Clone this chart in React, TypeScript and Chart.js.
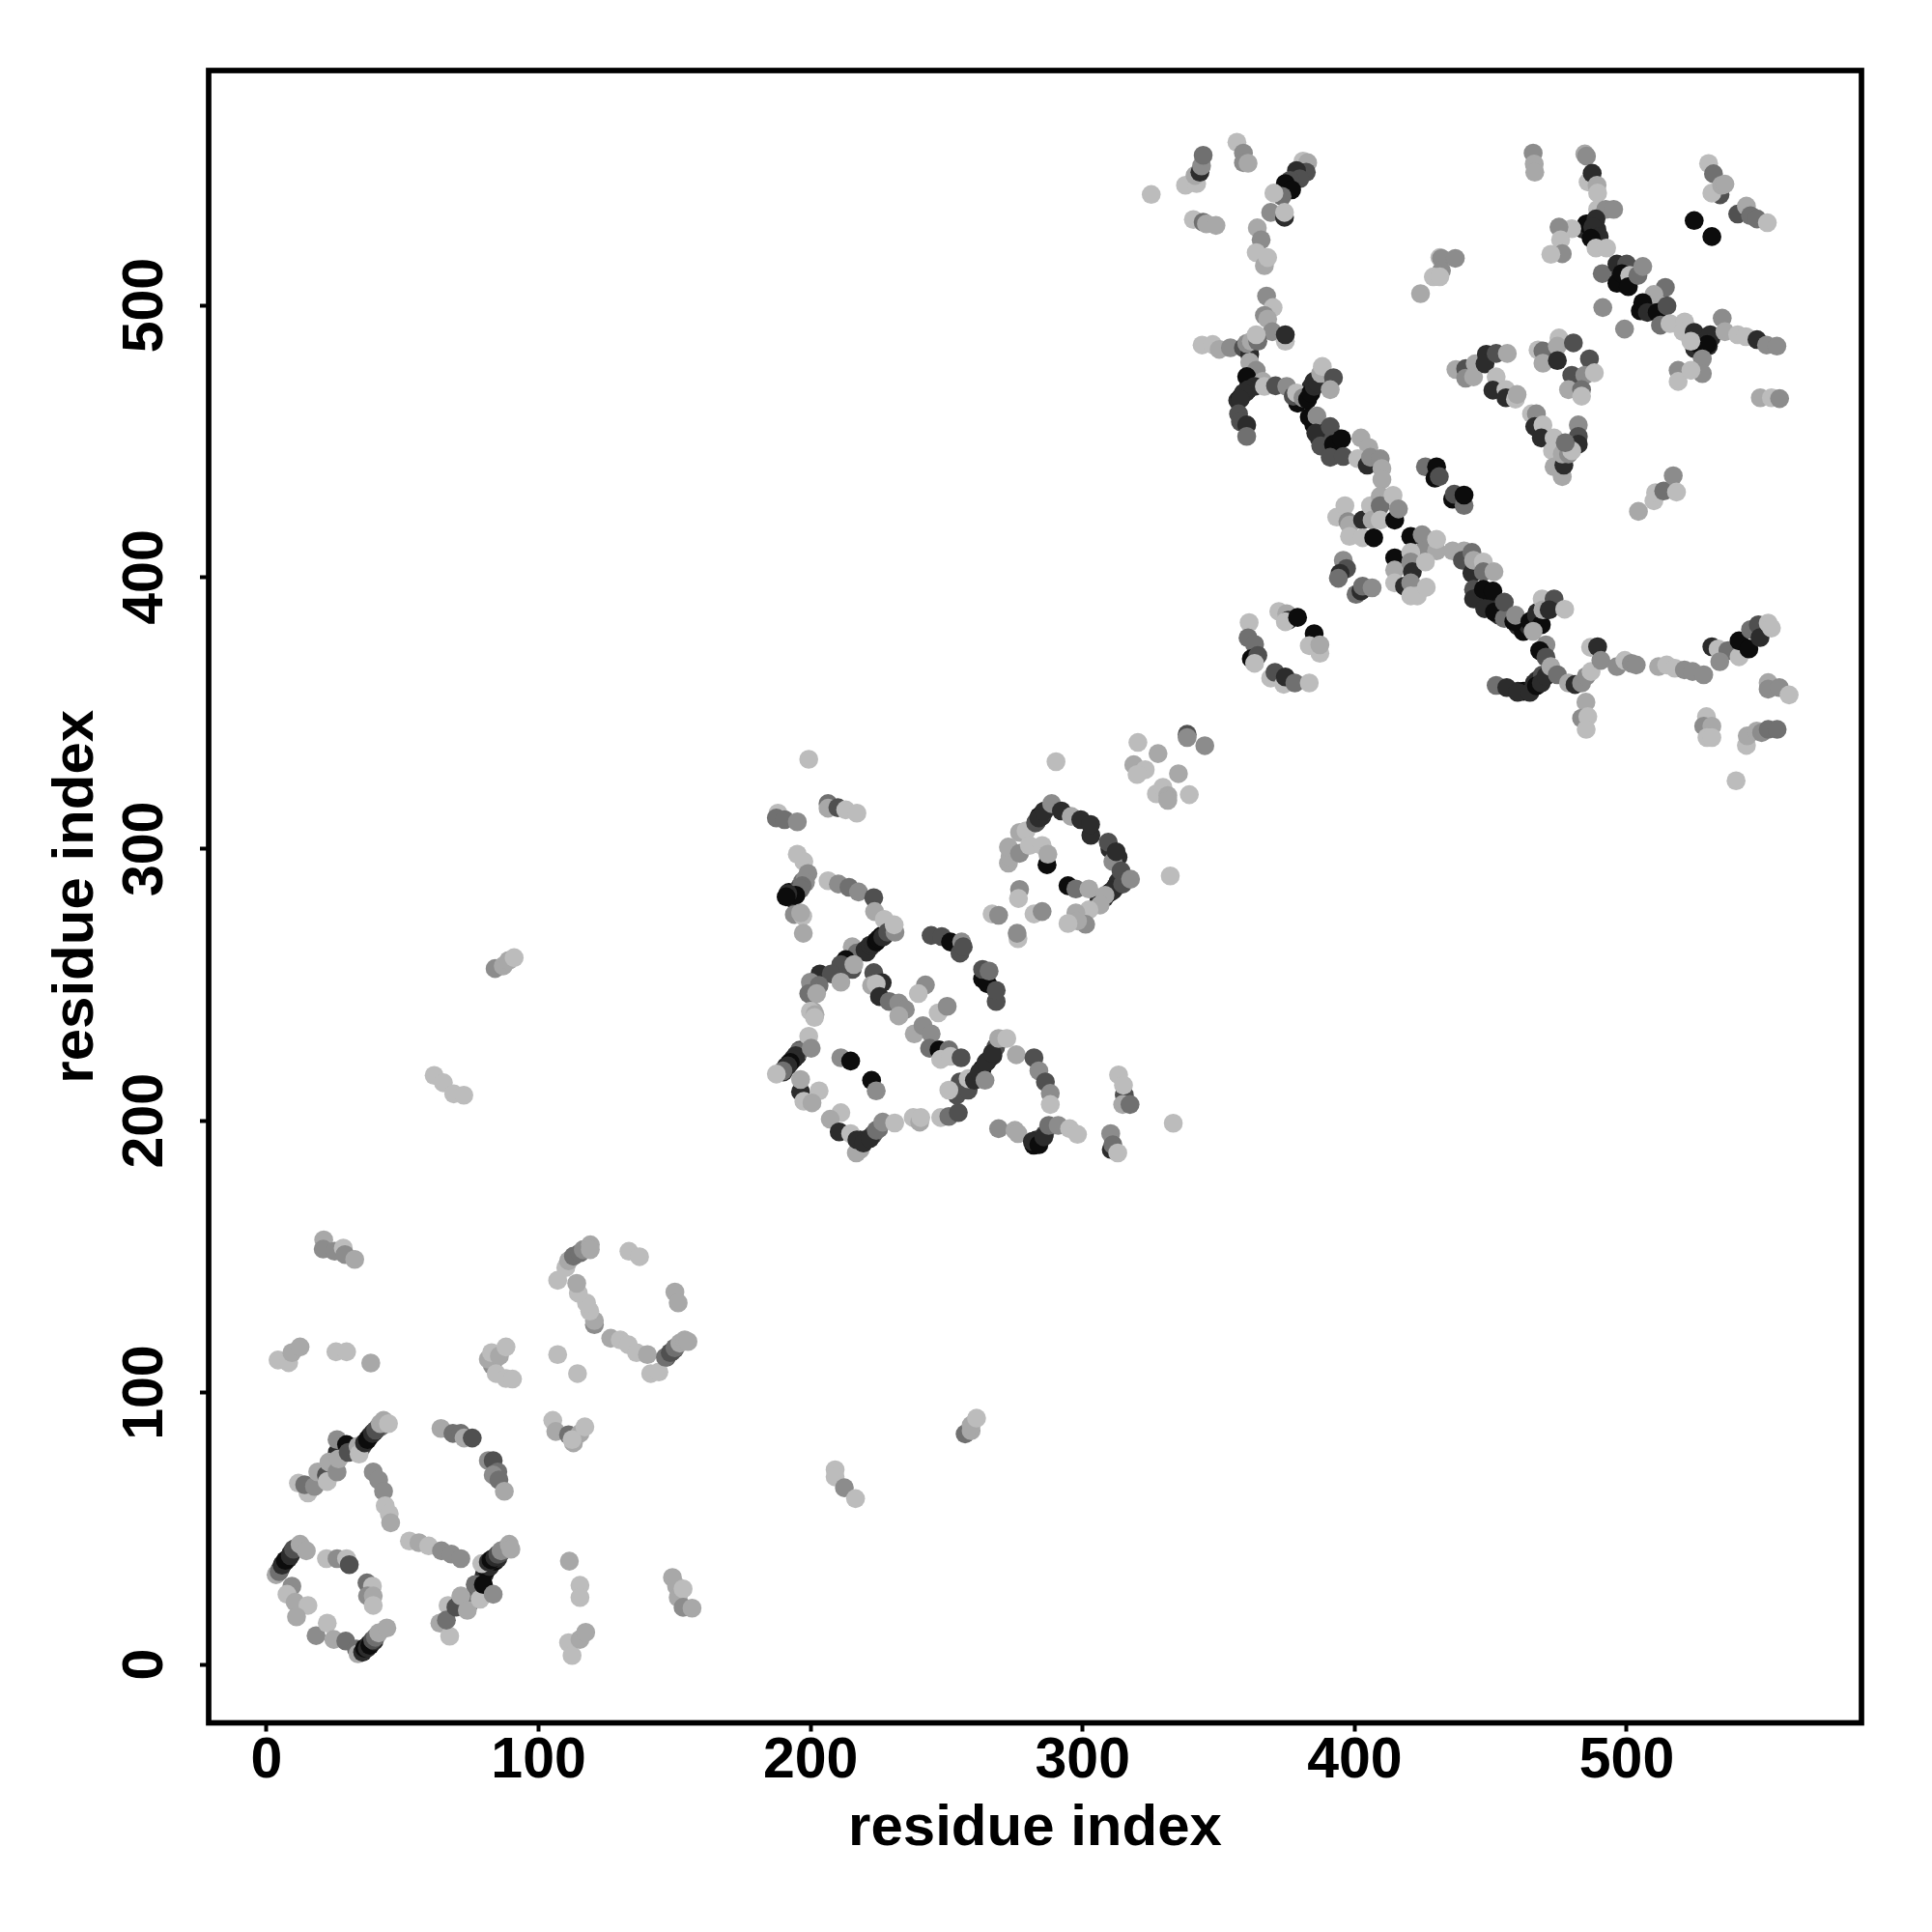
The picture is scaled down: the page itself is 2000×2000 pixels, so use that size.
import React, { useEffect, useRef } from "react";
import { Chart, registerables } from "chart.js";

Chart.register(...registerables);

type P = [number, number, number];

// [residue x, residue y, shade level 0 (darkest) .. 6 (palest)]
const strands: P[] = [[5,35,2],[6,37,0],[7,38,1],[8,39,1],[9,41,1],[11,43,4],[26,78,1],[31,79,1],[35,80,2],[38,84,1],[39.5,85.5,0],[41,87,2],[42,87.5,3],[80,33,1],[81,35,0],[82,36,1],[84,38,0],[85,39,1],[86,41,2],[87,42,3],[77,27,2],[75,23,3],[147,113,2],[149,115,3],[150,116,2],[192,284,0],[193,282,1],[195,284,1],[196,286,2],[197,288,3],[198,289,4],[221,263,0],[222,264,1],[224,266,1],[226,268,0],[227,268,1],[190,218,1],[191,220,0],[192,221,1],[194,223,0],[195,224,1],[196,226,2],[218,193,0],[220,193,1],[222,194,1],[223,195,2],[225,197,3],[261,216,1],[263,219,0],[265,222,1],[267,224,1],[268,227,2],[282,191,0],[283,193,1],[284,193,1],[286,195,2],[283,310,1],[284,312,0],[285,312,1],[286,314,2],[306,281,1],[308,282,1],[310,284,0],[312,286,1],[313,288,1],[303,305,1],[310,300,1],[313,297,1],[357,465,1],[358,466,0],[360,468,1],[361,470,0],[362,471,1],[379,464,0],[381,466,1],[383,468,0],[384,470,1],[385,472,1],[385,456,0],[387,451,1],[389,452,2],[393,447,0],[394,451,1],[393,445,2],[445,392,1],[448,390,0],[450,392,0],[452,390,1],[453,386,1],[460,382,1],[462,380,0],[464,382,1],[466,384,0],[467,387,1],[460,358,1],[462,358,0],[464,358,1],[465,359,0],[466,361,1],[467,362,1],[469,364,2],[484,528,1],[486,530,1],[488,528,0],[487,526,1],[489,528,1],[497,510,1],[500,510,0],[499,508,1],[525,484,1],[526,486,0],[527,487,1],[528,486,0],[530,485,1],[531,488,1],[505,498,0],[509,499,1]];
const lowerA: P[] = [[21,156.2,5],[20.8,152.8,4],[25,152,4],[28.2,153.2,6],[28.8,150.8,4],[32.4,149,5],[4.2,112,6],[8.1,111,6],[9.3,114.7,5],[12.3,116.8,5],[25.5,115,6],[29.4,115,6],[38.3,110.9,5],[83,110,4],[81.5,112.3,5],[82.7,114.7,6],[85.6,113.5,5],[88,116.8,6],[84.4,107,6],[88,105.2,6],[90.4,105,6],[107,114,6],[114.3,107,6]];
const lowerB: P[] = [[107,141.3,6],[110,146,6],[111,148.5,5],[112.8,150.2,3],[115.2,151.4,3],[116.4,152.6,4],[119,154.4,5],[119,152.6,5],[133.2,152,6],[137.1,150,6],[150.1,137,5],[151.3,133,5],[120.5,125,4],[120.5,126.5,5],[118.8,130,6],[117.6,133,6],[114.6,136.6,6],[114,140.2,5],[126.5,120,5],[130,119.4,6],[133,117.6,6],[136,114.7,6],[140,114,5],[141.2,107,6],[144.2,107.6,6],[146.6,113,3],[148.4,114.7,2],[150.1,116.5,3],[151.9,118.2,5],[153.7,119.4,5],[154.9,118.8,5]];
const lowerC: P[] = [[105.2,89.8,6],[106.3,85.7,5],[111,84.5,3],[112.8,81.5,5],[115.2,85,5],[112.3,82.7,6],[117,87.4,6],[11.7,66.7,6],[15.2,63.1,6],[14,66.1,3],[17.6,65.5,4],[18.8,70.8,5],[22,69.7,2],[22.3,67.3,6],[22.9,74.4,5],[25.9,70.8,4],[26.5,75.6,5],[25.9,82.7,4],[29.4,80.9,0],[30,78,2],[33.6,80.3,5],[34,77.4,6],[36,81.5,1],[37.1,82.7,0],[38.9,85,1],[40.1,86.2,2],[41.8,88.6,5],[43,89.8,5],[44.8,88.6,6]];
const lowerD: P[] = [[39.2,70.8,4],[41.2,67.9,4],[43,63.7,4],[43.6,58.4,6],[45.1,55.4,6],[45.6,52.1,5],[52.5,45.4,6],[56,44.8,5],[59.6,43.6,6],[64.3,41.8,4],[67.9,40.6,4],[71.4,38.9,4],[64.1,86.8,5],[68.5,85,3],[71.4,85,3],[72.6,83.3,5],[75.6,83.3,2],[81.5,75,4],[83.3,75,2],[85,70.8,3],[83.3,69.7,4],[85.4,67.9,3],[87.4,63.7,5]];
const lowerE: P[] = [[3.5,33,5],[4.6,34.1,3],[5.7,36.5,1],[6.9,38.3,0],[8.7,40,1],[9.9,42.4,2],[12.3,44.2,5],[14.6,41.8,5],[9.3,28.8,4],[7.5,25.8,6],[10.5,22.9,5],[15.2,21.7,6],[11,17.5,5],[22,38.9,6],[25.9,38.9,4],[29.4,38.9,6],[30.4,36.7,2],[36.9,30,3],[38.9,28.8,6],[37.1,25.2,4],[39.2,25.2,5],[39.2,21.7,6],[18.2,10.6,4],[22.3,15.2,6],[24.7,9.2,5],[29.1,8.6,3],[33,5.7,3],[33.6,3.9,5],[35.3,4.5,1],[36,6,0],[37,6,1],[37.7,7.5,1],[38,7,0],[39.5,8.6,1],[39,9,2],[40,10,3],[41.2,11.6,5],[44.2,13.4,5]];
const lowerF: P[] = [[63.7,15.2,5],[67.3,10.4,6],[66.7,21.7,6],[66.1,16.3,3],[69.6,21.1,2],[71.4,25.2,5],[73.8,19.9,5],[76.7,29.4,3],[78.5,24,6],[79.7,29.4,0],[83.3,25.8,4],[79.1,37.1,6],[81.5,37.7,1],[82.5,38.5,0],[83.9,39.4,1],[85,40.5,2],[86.2,41.8,4],[89.2,44.2,5],[89.8,42.4,5],[111.3,38,5],[115.2,29.1,6],[115.2,24.6,6],[111,8,6],[112.3,3.3,6],[115.2,9.2,5],[117.3,11.8,5],[149.2,32,5],[150.7,28.8,5],[151.3,24.6,5],[153.1,27.8,6],[153.1,21,4],[156.4,20.7,5]];
const lowerG: P[] = [[256.8,84.8,3],[259,86,5],[259,88,5],[261,90.6,6],[209,71.6,6],[209,69,6],[212.4,65,4],[216.5,61,6],[84,256,4],[87,257,5],[89,259,5],[91,260,6],[61.6,216.7,6],[65,214,6],[68.8,209.9,6],[72.5,209.4,6]];

const midA: P[] = [[199.3,333,6],[290.2,332.1,6],[188,313.2,6],[187.4,311.4,3],[190.4,310.8,3],[195.1,310,4],[206.4,316.7,3],[206.4,315,5],[210,315.2,2],[212.9,314.4,6],[217,313.2,6],[195.1,298.1,6],[197.5,295.4,6],[199,291,4],[198.1,287.7,4],[196.9,286.5,3],[196.3,285.3,3],[194.5,283,0],[191.6,283.6,1],[191,282.4,0],[194,275.9,4],[197.1,275.3,6],[196.3,276.5,5],[197.3,269,5]];
const midB: P[] = [[206.4,288.3,6],[210.2,287.1,4],[214.1,285.9,3],[217.6,284.2,4],[223.2,282.1,2],[223.5,277,5],[227.1,274.1,6],[215.3,264,5],[217,261.7,3],[220,262.8,1],[220.5,262,1],[221.8,264.6,1],[223,265,1],[224.1,265.8,0],[225,267,0],[226.5,267.6,1],[228.3,269.4,2],[231,269.4,4],[230.7,272.1,6],[212.9,259.3,0],[211.1,257.5,2],[215.3,255.7,2],[215.9,257.5,5],[203.4,254,1],[207.6,254,2],[211.1,251,5],[199.9,251,4],[203.1,249.8,3],[199.3,246.8,3],[202.2,246.8,5],[201,240.3,5],[199.9,240.3,6],[201.6,239.1,5],[201.4,238,6]];
const midC: P[] = [[223.2,254.5,2],[222.4,249.8,5],[226.3,250.8,1],[224.1,250.4,6],[225.3,245.7,1],[228.9,243.9,3],[232.4,243.3,4],[234.8,240.9,4],[232.4,238.6,5],[242.2,250,4],[239.6,246.8,6],[246.9,239.7,6],[250.2,242.1,4],[238.1,232,5],[241.3,235,4],[244.3,232,4],[243.7,226.7,3],[247.2,226.1,0],[250.8,226.1,3],[247.8,222.6,6],[251.4,223.7,6],[255.3,223.2,2],[244.3,268.2,2],[248.2,267.8,2],[251.4,265.8,0],[255.5,265.8,4],[254.9,261.7,2],[256.1,264,2],[263.2,252.2,0],[265,250.4,0],[263.2,255.7,2],[265.6,255.1,3],[268.2,243.9,2],[268.2,248,2]];
const midD: P[] = [[199.3,231.1,6],[195.7,225.5,3],[194.5,224,1],[193.4,222.6,1],[192.5,221.5,0],[191.6,220.2,1],[189.8,218.4,3],[187.4,217.2,6],[200.2,226.7,4],[196.3,210.7,1],[196.3,215.2,5],[203.1,211,6],[197.5,207.2,6],[200.5,206.6,5],[211.1,223.2,4],[214.7,222,0],[222.4,214.9,0],[224.1,211,4],[211.1,203,6],[207.2,200.6,5],[210.5,195.9,1],[214.7,195.3,6],[218.2,189.4,5],[216.8,188.2,5],[217,193,1],[219.4,191.8,1],[221.8,193.5,1],[224.1,196.5,3],[226.5,199.5,4],[230.9,199.2,6]];
const midE: P[] = [[237.7,201.2,6],[240.1,199.5,5],[240.5,201.2,6],[247.8,201.2,6],[250.8,201.6,3],[254.3,203,2],[253.7,209.5,2],[254.9,214.3,2],[257.9,211.3,2],[250.8,211.3,6],[257.9,215.5,6],[260.2,214.9,1],[262,217.8,1],[264.4,221.4,1],[266.8,224.9,1],[264.1,214.9,4],[269.1,230.3,5],[272.1,230.3,6],[275.6,224.3,5],[282.1,223.2,2],[283.9,218.4,4],[286.3,214.3,2],[288.1,210.1,4],[288.1,206,6],[269.1,197.1,4],[275.1,196.5,5],[276.2,195.3,5],[281.5,192.4,1],[283.9,191.2,0],[285.7,194.1,1],[287.5,198.3,3],[291,198.3,4],[295.2,197.1,6],[298.1,195,6]];
const midF: P[] = [[313.2,216.9,6],[315.3,209.5,2],[315,213.1,6],[314.7,206,5],[317.4,206,3],[310.3,195.3,4],[310.5,189.4,1],[311.1,191.2,3],[312.9,188.2,6],[333.3,199.1,6],[332.2,290.1,6],[276.8,285.1,4],[276.4,281.8,6],[266.7,276.1,6],[269.1,275.6,4],[282.1,276.1,6],[285.1,277,4],[276.2,267,6],[275.9,269,4]];
const midG: P[] = [[272.7,294.8,5],[273.3,297.2,5],[272.7,300.7,5],[276.8,298.4,4],[276.8,306.1,5],[279.2,306.7,6],[280.4,301.3,6],[282.7,309.6,2],[283.9,311.4,1],[285.7,313.8,1],[288.6,316.7,4],[292.2,314,1],[295.8,312,5],[299.3,310.8,1],[302.9,309,1],[285.1,301.3,6],[286.9,294.2,0],[287.2,298.1,5],[294.6,286.5,0],[297.5,285.3,3],[302.3,285.3,5],[309.4,302.5,2],[311.1,295.4,4],[312.3,299,1],[314.1,291.9,2],[311.1,284.7,1],[314.7,287.1,2],[317.6,288.9,4],[308.2,283,5],[306.4,279.4,5],[302.3,277.6,6],[297.5,276.5,5],[301.1,272.3,4],[298.1,273.5,5],[294.6,272.6,6],[320.3,339.2,6],[327.7,335.1,5],[318.8,331,5],[323,329.2,6],[320,327.4,6],[335.2,327.7,5],[339.2,320,6],[327.1,320.3,6],[329.5,322.7,6],[331.3,319.7,5],[331.3,317.9,5],[338.4,342.2,2],[338.4,341,4],[344.9,338,4]];

const upperA: P[] = [[325.2,540.8,6],[337.8,544.2,6],[341.9,544.8,6],[341.3,547.8,5],[343.1,549,1],[343.7,551.3,4],[344.3,555.2,3],[356.7,560,6],[359.1,556,4],[359.1,552.5,4],[360.8,552.3,5],[340.7,531.6,6],[344.3,530.6,3],[345.5,530,5],[349,529.4,5],[364.2,528.5,5],[365.6,524.1,4],[363.8,519.4,6],[366.8,514.6,5],[368,517.6,6]];
const upperB: P[] = [[381,553.1,6],[382.7,552.5,5],[382.2,549,2],[378.6,549.6,1],[379.8,546.6,2],[376.2,546,2],[374.5,544.8,0],[376.8,542.5,0],[373.3,540.1,3],[370.3,541.3,6],[369.1,534.2,4],[374.2,532.4,1],[374.2,534.2,6],[367.6,503.4,4],[370,499.2,6],[366.8,496.3,4],[368,495,5],[369.7,490.3,4],[374.5,486.8,6],[374.5,489.2,1]];
const upperC: P[] = [[343.9,485.4,6],[347.8,485.6,6],[350.2,483.8,5],[354.3,484.4,4],[359.1,484.4,2],[361.4,482,1],[360.3,486,4],[362,486.8,5],[364.4,486.8,3],[363.8,489.2,6],[361.4,479.1,5],[363.8,476.1,4],[360.3,473.8,0],[366.2,472,5],[363.2,470.2,1],[360.8,469,1],[359.1,467.8,1],[357.9,465.5,1],[357.3,460.1,2],[358,457.2,2],[360.3,456,1],[360.3,451.8,3],[366.8,470.2,6],[370.9,470.4,2],[375,470.2,4],[377.4,466.6,2],[378.6,467.8,6],[381,466,4],[382.7,465.4,0],[383.9,467.8,0],[385.1,470.2,1],[386.3,471.4,1],[387.5,475,5],[388.1,477.5,6],[392.2,473.4,2],[391,469,5]];
const upperD: P[] = [[383.3,458.9,0],[386.1,459.3,4],[385.7,453,1],[391,455.4,2],[387.5,448.3,2],[392.2,448.9,0],[395.2,450.9,0],[391,444.1,2],[395.8,444.4,2],[402.3,451.2,5],[405.2,447.7,5],[401.1,443.6,6],[404.6,441.2,1],[405.8,444.1,4],[409.4,443.6,4],[410,440,5],[410,435.9,5],[426,440.6,3],[430.1,440.6,0],[429.5,436.4,0],[431.1,437,2],[436,428.7,0],[436.6,430.5,2],[440.2,426.4,3],[440.2,430.2,0]];
const upperE: P[] = [[393.4,422.1,6],[396.4,426.3,6],[397.5,420.4,4],[398.1,419.2,5],[398.1,415,6],[402.9,421,1],[402.9,414.5,6],[405.8,426.3,6],[406.4,421,5],[407,414.5,0],[409.4,429.8,5],[409.4,426.3,3],[414.1,430.1,6],[409.4,421,6],[414.7,421,0],[416.1,425.1,4],[420.6,415,0],[425.4,414.5,2],[424.8,415.6,4],[425.4,409.7,4],[430.1,409.7,5],[430.1,413.9,6],[414.7,407.1,0],[420.6,409.1,6],[414.7,402.6,5],[420.6,405.6,4],[421.2,402,1],[426,405.6,6],[414.7,397.9,6],[418.3,396.7,1],[420.6,397.9,4],[420.6,393.1,6],[423,393.1,6],[426.3,396.3,6],[395.8,406.2,4],[397,403.2,2],[394.6,401.4,1],[394,399.6,3],[400.5,393.7,3],[402.3,394.9,1],[402.9,396.7,3],[406.4,396.1,4]];
const upperF: P[] = [[436,409.7,5],[440.2,409.7,5],[439.6,406.2,2],[443.1,409.1,3],[443.1,401.4,1],[443.7,406.2,5],[447.3,405.6,6],[447.3,402,3],[451.2,402,5],[443.7,395.5,2],[443.7,392,1],[447.3,395.5,0],[447.8,388.4,1],[450.8,394.9,0],[451.4,387.2,0],[455,384.8,3],[455,390.8,2],[458.5,383.7,0],[459.1,386,4],[464.4,383.7,0],[466.8,386,1],[468.6,382.5,0],[468.9,392,6],[469.2,388,5],[473.3,392,2],[471.5,388,1],[477.2,388.2,6],[465.6,380.1,5],[470.3,375.1,4],[468,373,0],[470.3,370.6,2]];
const upperG: P[] = [[452,360.2,3],[455.9,359.4,1],[459.9,357.6,1],[464.4,357.6,1],[466.8,360,0],[468.6,361.1,1],[470.3,363.5,1],[472.1,367.1,5],[474.5,364.1,3],[478.6,361.1,5],[481,360.5,1],[483.4,361.1,4],[485.1,363.5,4],[486.9,365.3,6],[486.7,374.2,6],[489.3,374.4,1],[490.5,369.4,4],[496.4,367.1,4],[499.3,369.4,6],[501.7,368.3,4],[503.5,367.7,4],[485,354,5],[483.4,348.1,4],[485.7,348.7,6],[485.1,344,6],[361.2,383.3,6],[360.8,377.7,3],[363.2,375.3,3],[362,370,0],[364.4,371.2,2],[363.2,368.3,6],[372.1,387.4,6],[375,386.6,5],[375.6,384.2,1],[374.5,383.6,6],[379,385.2,0],[385.1,379.2,0],[383.3,374.8,6],[387.2,372,6],[387.2,375.1,5],[369.1,362.9,6],[370.7,365,2],[373.9,360.6,6],[374.5,363.3,1],[378,361.1,3],[383.3,361.1,6]];
const upperH: P[] = [[511.7,367.1,5],[514.7,367.7,6],[517.7,366.5,6],[521.2,365.9,4],[524.2,365.3,4],[528.3,364.1,4],[531.3,374.4,1],[533.6,373.6,6],[537.2,373,3],[534.2,368.9,4],[541.3,370.7,6],[541.3,376.6,0],[544.9,373.6,0],[545.5,380.7,3],[548.4,382.5,2],[549,377.8,1],[552,383.1,6],[553.2,381.3,6],[552,361.2,5],[552,358.8,4],[556.1,359.4,4],[559.7,356.7,6],[529.3,348.7,6],[528.3,345.2,4],[531.3,345.2,5],[529.5,341,6],[531.3,341,6],[544,338.1,6],[544.3,341.6,5],[547.8,343.4,5],[549.6,342.8,4],[552,344,3],[555.3,344,3],[540.2,325.1,6]];
const upperI: P[] = [[465.6,556,4],[466,552,5],[466.2,549,5],[431.3,517.6,6],[431.9,517.3,4],[437,517.3,4],[431.9,512.8,4],[428.9,510.5,6],[431.3,510.5,6],[424.2,504.3,5],[491.2,499.2,4],[499.2,491.3,4],[437.2,476.4,5],[440.8,476.7,2],[440.8,473.2,4],[444.3,478.5,5],[443.7,473.7,5],[448.4,482,1],[447.9,478.5,1],[452,482.3,2],[456.1,482.3,5],[452,473.7,6],[450.8,468.8,1],[455.6,469,6],[455.6,466,1],[459.1,465.5,6],[459.7,467.2,5]];
const upperJ: P[] = [[465,460.1,6],[466.8,460.1,4],[466.2,455.4,1],[469.2,456,6],[468.6,451.2,1],[473.3,451.2,6],[472.7,446.5,6],[473.3,440.6,5],[476.3,437,5],[476.9,441.2,1],[476.3,445.3,5],[478.6,445.3,4],[482.2,456,4],[482.2,451.8,2],[482.2,448.9,1],[479.8,446.5,6],[477.4,449.5,3],[467.4,483.6,6],[469.2,483.2,3],[475.1,488,6],[474.5,485,5],[469.2,478.7,5],[474.5,479.7,1],[480.4,486.2,2],[486.3,480.3,2],[479.8,474.3,2],[484.6,474.3,4],[488.1,475.2,6],[478.6,469,5],[483.4,469,3],[483.4,466.6,6]];
const upperK: P[] = [[484.6,555.7,5],[485.2,554.9,4],[485.8,545.4,6],[487.3,548.6,1],[489.1,544.2,5],[489.3,541.3,6],[489.3,535.3,6],[492.3,535.3,4],[495.2,535.3,4],[485.2,530,0],[488.7,531.8,1],[487.5,528.8,1],[479.8,528.2,6],[475.1,528.8,4],[475.7,524.1,6],[476.3,519,4],[472.1,518.8,6],[489.9,525.3,1],[486.9,524.7,0],[488.7,521.1,6],[492.6,521.1,6],[491,511.7,3],[496.4,515.2,1],[500,515.2,2],[496.4,508.1,0],[498.2,511.7,0],[501.1,511,6],[500.6,506.9,0],[504.1,511,3],[505.9,514.3,4]];
const upperL: P[] = [[514.2,506.6,3],[510,504,5],[505.9,501,0],[507.6,497.4,1],[511.2,497.4,0],[514.8,499.8,2],[512.4,492.7,3],[515.9,493.3,6],[521.3,493.9,6],[520.7,490.3,6],[524.8,490.1,1],[528.4,488,1],[530.7,489.2,1],[529.6,485.6,0],[523.6,486.8,6],[527.8,480.3,4],[518.9,476.1,4],[518.9,472,6],[527.8,474.9,4],[523.6,476.1,6],[535.1,495.3,4],[536.1,490.3,5],[540.8,489.2,6],[543.8,488.5,6],[547.9,487.4,1],[551.4,485.4,4],[555.2,485,4],[530.1,552.2,6],[531.9,548.4,3],[534.3,540.7,2],[531.3,541.3,6],[534.9,544.2,5],[536.1,544.6,5],[524.8,531.2,0],[531.3,525.3,0],[540.8,533.6,2],[544,536.5,5],[545.5,533,3],[547.9,531.8,3],[551.7,530.4,6],[549.1,466,5],[553.2,466,6],[556.2,465.7,4],[504.3,424.2,5],[510,428.1,6],[510.6,431.1,6],[513.6,431.7,3],[517.1,437.3,4],[518.3,431.3,6]];

const clusters: P[][] = [strands, lowerA, lowerB, lowerC, lowerD, lowerE, lowerF, lowerG, midA, midB, midC, midD, midE, midF, midG, upperA, upperB, upperC, upperD, upperE, upperF, upperG, upperH, upperI, upperJ, upperK, upperL];

const shades = ["#0c0c0c", "#2c2c2c", "#505050", "#707070", "#8c8c8c", "#a8a8a8", "#bcbcbc"];
const tickValues = [0, 100, 200, 300, 400, 500];
const axisTitle = "residue index";

const frame = {
  id: "frame",
  afterDraw(c: Chart) {
    const { left, top, width, height } = c.chartArea;
    const ctx = c.ctx;
    ctx.save();
    ctx.strokeStyle = "#000";
    ctx.lineWidth = 5.7;
    ctx.strokeRect(left, top, width, height);
    ctx.restore();
  },
};

export default function App() {
  const ref = useRef<HTMLCanvasElement>(null);
  useEffect(() => {
    const pts = clusters.flat();
    const font = { family: "'Liberation Sans'", weight: "bold" as const, lineHeight: 1 };
    const grid = { display: true, drawOnChartArea: false, drawTicks: true, tickLength: 9, tickWidth: 4, tickColor: "#000" };
    const chart = new Chart(ref.current!, {
      type: "scatter",
      data: {
        datasets: [
          {
            data: pts.map((p) => ({ x: p[0], y: p[1] })),
            pointRadius: 9.8,
            pointBorderWidth: 0,
            pointBackgroundColor: pts.map((p) => shades[p[2]]),
          },
        ],
      },
      options: {
        animation: false,
        responsive: false,
        layout: { padding: { top: 73, right: 73, left: 0, bottom: 0 } },
        plugins: { legend: { display: false }, tooltip: { enabled: false } },
        scales: {
          x: {
            type: "linear",
            min: -21.3,
            max: 586.3,
            grid,
            border: { display: false },
            afterFit: (s: any) => { s.height = 216.5; },
            afterBuildTicks: (s: any) => { s.ticks = tickValues.map((value) => ({ value })); },
            ticks: { font: { ...font, size: 59 }, color: "#000", padding: 2, maxRotation: 0, includeBounds: false },
            title: { display: true, text: axisTitle, color: "#000", font: { ...font, size: 60 }, padding: { bottom: 77, top: 0 } },
          },
          y: {
            type: "linear",
            min: -21.5,
            max: 586.4,
            grid,
            border: { display: false },
            afterFit: (s: any) => { s.width = 216; },
            afterBuildTicks: (s: any) => { s.ticks = tickValues.map((value) => ({ value })); },
            ticks: { font: { ...font, size: 59 }, color: "#000", padding: 6, minRotation: 90, maxRotation: 90, crossAlign: "center", includeBounds: false },
            title: { display: true, text: axisTitle, color: "#000", font: { ...font, size: 60 }, padding: { top: 49, bottom: 0 } },
          },
        },
      },
      plugins: [frame],
    });
    return () => chart.destroy();
  }, []);
  return <canvas ref={ref} width={2000} height={2000} style={{ position: "absolute", left: 0, top: 0, width: 2000, height: 2000 }} />;
}
